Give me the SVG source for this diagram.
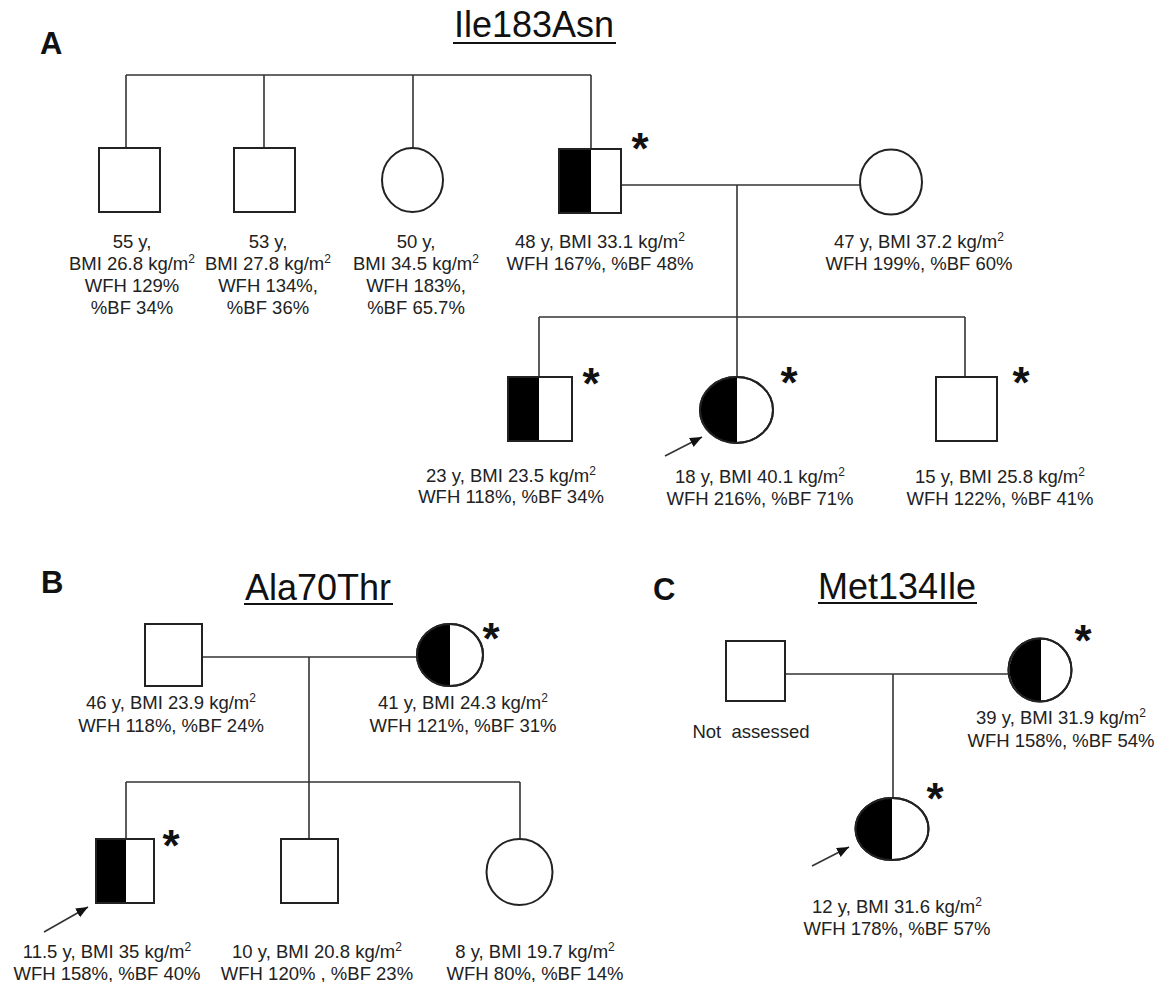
<svg xmlns="http://www.w3.org/2000/svg" width="1163" height="982" viewBox="0 0 1163 982">
  <style>
    .ln { stroke: #333; stroke-width: 1.6; fill: none; }
    .sh { stroke: #222; stroke-width: 2; fill: #fff; }
    .ol { stroke: #222; stroke-width: 2; fill: none; }
    .blk { fill: #000; stroke: none; }
    .t { font-family: "Liberation Sans", Arial, sans-serif; font-size: 18.5px; fill: #222; text-anchor: middle; }
    .sup { font-size: 12px; }
    .ttl { font-family: "Liberation Sans", Arial, sans-serif; font-size: 36px; fill: #111; text-anchor: middle; }
    .ul { stroke: #111; stroke-width: 2; }
    .lbl { font-family: "Liberation Sans", Arial, sans-serif; font-size: 31px; font-weight: bold; fill: #111; }
    .ast { font-family: "Liberation Sans", Arial, sans-serif; font-size: 44px; font-weight: bold; fill: #111; text-anchor: middle; }
    .pre { white-space: pre; }
  </style>
  <defs>
    <marker id="arrow" markerUnits="userSpaceOnUse" markerWidth="14" markerHeight="12" refX="12" refY="5" orient="auto">
      <path d="M0,0 L12,5 L0,10 Z" fill="#111"/>
    </marker>
  </defs>

  <rect width="1163" height="982" fill="#fff"/>

  <!-- Panel labels and titles -->
  <g id="panel-A-title">
    <text class="lbl" x="40" y="54">A</text>
    <text class="ttl" x="534" y="37">Ile183Asn</text>
    <line class="ul" x1="453" y1="43" x2="616" y2="43"/>
  </g>
  <g id="panel-B-title">
    <text class="lbl" x="41" y="593">B</text>
    <text class="ttl" x="318" y="600">Ala70Thr</text>
    <line class="ul" x1="244" y1="604" x2="393" y2="604"/>
  </g>
  <g id="panel-C-title">
    <text class="lbl" x="653" y="600">C</text>
    <text class="ttl" x="897" y="599">Met134Ile</text>
    <line class="ul" x1="818" y1="603" x2="977" y2="603"/>
  </g>

  <!-- Connectors -->
  <g id="connectors">
    <!-- Panel A: sibship of the first generation -->
    <line class="ln" x1="126" y1="75" x2="591" y2="75"/>
    <line class="ln" x1="126" y1="75" x2="126" y2="148"/>
    <line class="ln" x1="264" y1="75" x2="264" y2="148"/>
    <line class="ln" x1="413" y1="75" x2="413" y2="148"/>
    <line class="ln" x1="591" y1="75" x2="591" y2="149"/>
    <!-- Panel A: couple and children -->
    <line class="ln" x1="621" y1="185" x2="860" y2="185"/>
    <line class="ln" x1="737" y1="185" x2="737" y2="317"/>
    <line class="ln" x1="539" y1="317" x2="965" y2="317"/>
    <line class="ln" x1="539" y1="317" x2="539" y2="377"/>
    <line class="ln" x1="737" y1="317" x2="737" y2="377"/>
    <line class="ln" x1="965" y1="317" x2="965" y2="377"/>
    <!-- Panel B -->
    <line class="ln" x1="202" y1="657" x2="417" y2="657"/>
    <line class="ln" x1="309" y1="657" x2="309" y2="782"/>
    <line class="ln" x1="126" y1="782" x2="520" y2="782"/>
    <line class="ln" x1="126" y1="782" x2="126" y2="839"/>
    <line class="ln" x1="309" y1="782" x2="309" y2="839"/>
    <line class="ln" x1="520" y1="782" x2="520" y2="839"/>
    <!-- Panel C -->
    <line class="ln" x1="785" y1="674" x2="1009" y2="674"/>
    <line class="ln" x1="893" y1="674" x2="893" y2="798"/>
    <!-- Proband arrows -->
    <line class="ln" x1="665" y1="456" x2="702" y2="437" marker-end="url(#arrow)"/>
    <line class="ln" x1="44" y1="932" x2="88" y2="907" marker-end="url(#arrow)"/>
    <line class="ln" x1="812" y1="866" x2="849" y2="847" marker-end="url(#arrow)"/>
  </g>

  <!-- Panel A nodes -->
  <g id="a-sib-55">
    <rect class="sh" x="99" y="148" width="61" height="64"/>
    <text class="t" x="132" y="248">55 y,</text>
    <text class="t" x="132" y="270">BMI 26.8 kg/m<tspan class="sup" dy="-7">2</tspan></text>
    <text class="t" x="132" y="292">WFH 129%</text>
    <text class="t" x="132" y="314">%BF 34%</text>
  </g>
  <g id="a-sib-53">
    <rect class="sh" x="234" y="148" width="61" height="64"/>
    <text class="t" x="268" y="248">53 y,</text>
    <text class="t" x="268" y="270">BMI 27.8 kg/m<tspan class="sup" dy="-7">2</tspan></text>
    <text class="t" x="268" y="292">WFH 134%,</text>
    <text class="t" x="268" y="314">%BF 36%</text>
  </g>
  <g id="a-sib-50">
    <ellipse class="sh" cx="412.5" cy="180" rx="30.5" ry="32"/>
    <text class="t" x="416" y="248">50 y,</text>
    <text class="t" x="416" y="270">BMI 34.5 kg/m<tspan class="sup" dy="-7">2</tspan></text>
    <text class="t" x="416" y="292">WFH 183%,</text>
    <text class="t" x="416" y="314">%BF 65.7%</text>
  </g>
  <g id="a-father-48">
    <rect class="sh" x="559" y="149" width="62" height="64"/>
    <rect class="blk" x="559" y="149" width="32" height="64"/>
    <rect class="ol" x="559" y="149" width="62" height="64"/>
    <text class="ast" x="640" y="164">*</text>
    <text class="t" x="600" y="248">48 y, BMI 33.1 kg/m<tspan class="sup" dy="-7">2</tspan></text>
    <text class="t" x="600" y="270">WFH 167%, %BF 48%</text>
  </g>
  <g id="a-mother-47">
    <ellipse class="sh" cx="891" cy="182" rx="31" ry="32.5"/>
    <text class="t" x="919" y="248">47 y, BMI 37.2 kg/m<tspan class="sup" dy="-7">2</tspan></text>
    <text class="t" x="919" y="270">WFH 199%, %BF 60%</text>
  </g>
  <g id="a-son-23">
    <rect class="sh" x="508" y="377" width="64" height="64"/>
    <rect class="blk" x="508" y="377" width="31" height="64"/>
    <rect class="ol" x="508" y="377" width="64" height="64"/>
    <text class="ast" x="591" y="399">*</text>
    <text class="t" x="511" y="482">23 y, BMI 23.5 kg/m<tspan class="sup" dy="-7">2</tspan></text>
    <text class="t" x="511" y="503">WFH 118%, %BF 34%</text>
  </g>
  <g id="a-daughter-18">
    <ellipse class="sh" cx="736.5" cy="410" rx="36.5" ry="33"/>
    <path class="blk" d="M737,377 A36.5,33 0 0,0 737,443 Z"/>
    <ellipse class="ol" cx="736.5" cy="410" rx="36.5" ry="33"/>
    <text class="ast" x="789" y="398">*</text>
    <text class="t" x="760" y="483">18 y, BMI 40.1 kg/m<tspan class="sup" dy="-7">2</tspan></text>
    <text class="t" x="760" y="505">WFH 216%, %BF 71%</text>
  </g>
  <g id="a-son-15">
    <rect class="sh" x="936" y="377" width="61" height="64"/>
    <text class="ast" x="1021" y="398">*</text>
    <text class="t" x="1000" y="483">15 y, BMI 25.8 kg/m<tspan class="sup" dy="-7">2</tspan></text>
    <text class="t" x="1000" y="505">WFH 122%, %BF 41%</text>
  </g>

  <!-- Panel B nodes -->
  <g id="b-father-46">
    <rect class="sh" x="145" y="624" width="57" height="62"/>
    <text class="t" x="171" y="709">46 y, BMI 23.9 kg/m<tspan class="sup" dy="-7">2</tspan></text>
    <text class="t" x="171" y="732">WFH 118%, %BF 24%</text>
  </g>
  <g id="b-mother-41">
    <ellipse class="sh" cx="450" cy="655" rx="33" ry="31"/>
    <path class="blk" d="M450,624 A33,31 0 0,0 450,686 Z"/>
    <ellipse class="ol" cx="450" cy="655" rx="33" ry="31"/>
    <text class="ast" x="491" y="654">*</text>
    <text class="t" x="463" y="709">41 y, BMI 24.3 kg/m<tspan class="sup" dy="-7">2</tspan></text>
    <text class="t" x="463" y="732">WFH 121%, %BF 31%</text>
  </g>
  <g id="b-son-11">
    <rect class="sh" x="96" y="839" width="58" height="64"/>
    <rect class="blk" x="96" y="839" width="30" height="64"/>
    <rect class="ol" x="96" y="839" width="58" height="64"/>
    <text class="ast" x="171" y="861">*</text>
    <text class="t" x="107" y="958">11.5 y, BMI 35 kg/m<tspan class="sup" dy="-7">2</tspan></text>
    <text class="t" x="107" y="980">WFH 158%, %BF 40%</text>
  </g>
  <g id="b-son-10">
    <rect class="sh" x="281" y="839" width="57" height="64"/>
    <text class="t" x="317" y="958">10 y, BMI 20.8 kg/m<tspan class="sup" dy="-7">2</tspan></text>
    <text class="t" x="317" y="980">WFH 120% , %BF 23%</text>
  </g>
  <g id="b-daughter-8">
    <ellipse class="sh" cx="519.5" cy="872" rx="33" ry="33"/>
    <text class="t" x="535" y="958">8 y, BMI 19.7 kg/m<tspan class="sup" dy="-7">2</tspan></text>
    <text class="t" x="535" y="980">WFH 80%, %BF 14%</text>
  </g>

  <!-- Panel C nodes -->
  <g id="c-father">
    <rect class="sh" x="726" y="641" width="59" height="60"/>
    <text class="t pre" x="751" y="738">Not  assessed</text>
  </g>
  <g id="c-mother-39">
    <ellipse class="sh" cx="1040" cy="670" rx="31.5" ry="31.5"/>
    <path class="blk" d="M1041,638.5 A31.5,31.5 0 0,0 1041,701.5 Z"/>
    <ellipse class="ol" cx="1040" cy="670" rx="31.5" ry="31.5"/>
    <text class="ast" x="1083" y="656">*</text>
    <text class="t" x="1061" y="724">39 y, BMI 31.9 kg/m<tspan class="sup" dy="-7">2</tspan></text>
    <text class="t" x="1061" y="747">WFH 158%, %BF 54%</text>
  </g>
  <g id="c-daughter-12">
    <ellipse class="sh" cx="892" cy="829" rx="36.5" ry="31"/>
    <path class="blk" d="M892,798 A36.5,31 0 0,0 892,860 Z"/>
    <ellipse class="ol" cx="892" cy="829" rx="36.5" ry="31"/>
    <text class="ast" x="935" y="814">*</text>
    <text class="t" x="897" y="913">12 y, BMI 31.6 kg/m<tspan class="sup" dy="-7">2</tspan></text>
    <text class="t" x="897" y="935">WFH 178%, %BF 57%</text>
  </g>
</svg>
